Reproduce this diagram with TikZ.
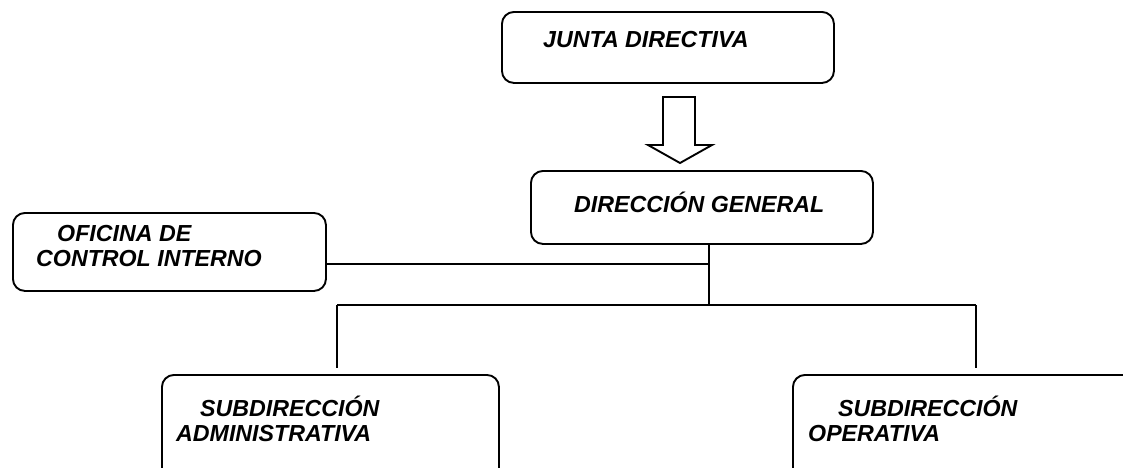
\documentclass[tikz,border=0pt]{standalone}
\usepackage{fontspec}
\setmainfont{Liberation Sans}
\begin{document}
\begin{tikzpicture}[x=1pt,y=1pt,
  box/.style={draw, line width=1.9pt, rounded corners=12pt, inner sep=0pt, anchor=north west},
  lbl/.style={inner sep=0pt, anchor=base west, font=\fontsize{23.2}{23}\selectfont\bfseries\itshape},
  conn/.style={line width=1.9pt}]
\useasboundingbox (0,0) rectangle (1123,-467);
\clip (0,0) rectangle (1123,-467);
% boxes
\node[box, minimum width=332pt, minimum height=71pt] (jd) at (501,-11) {};
\node[box, minimum width=342pt, minimum height=73pt] (dg) at (530,-170) {};
\node[box, minimum width=313pt, minimum height=78pt] (ofi) at (12,-212) {};
\node[box, minimum width=337pt, minimum height=120pt] (sa) at (161,-374) {};
\node[box, minimum width=360pt, minimum height=120pt] (so) at (792,-374) {};
% labels
\node[lbl] (tjd) at (543,-47) {JUNTA DIRECTIVA};
\node[lbl] (tdg) at (574,-212) {DIRECCIÓN GENERAL};
\node[lbl] (tofi1) at (57,-241) {OFICINA DE};
\node[lbl] (tofi2) at (36,-266) {CONTROL INTERNO};
\node[lbl] (tsa1) at (200,-416) {SUBDIRECCIÓN};
\node[lbl] (tsa2) at (176,-441) {ADMINISTRATIVA};
\node[lbl] (tso1) at (838,-416) {SUBDIRECCIÓN};
\node[lbl] (tso2) at (808,-441) {OPERATIVA};
% block arrow from JUNTA to DIRECCION
\draw[line width=1.9pt, line join=miter]
  (663,-97) -- (695,-97) -- (695,-145) -- (712,-145) -- (680,-163)
  -- (648,-145) -- (663,-145) -- cycle;
% connectors
\coordinate (j0) at (709,-264);
\coordinate (j1) at (709,-305);
\coordinate (ja) at (337,-305);
\coordinate (jb) at (976,-305);
\draw[conn] (dg.south -| j1) -- (j1);
\draw[conn] (ofi.east |- j0) -- (j0);
\draw[conn] (ja) -- (jb);
\draw[conn, shorten >=6pt] (ja) -- (sa.north -| ja);
\draw[conn, shorten >=6pt] (jb) -- (so.north -| jb);
\end{tikzpicture}
\end{document}
